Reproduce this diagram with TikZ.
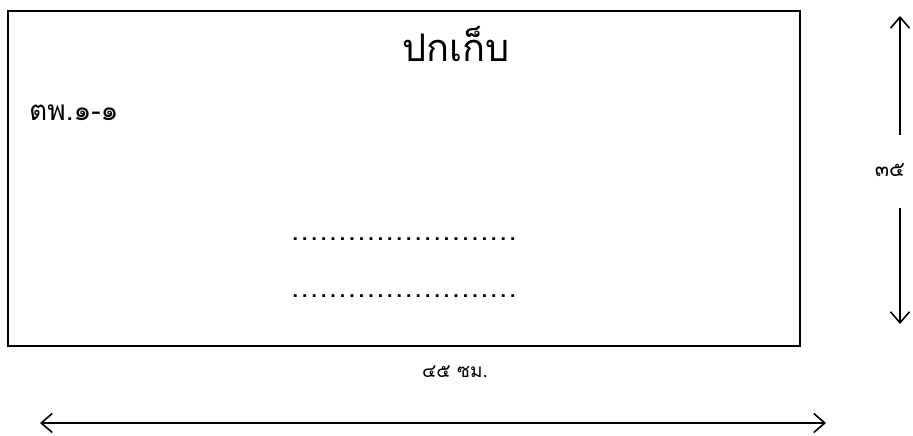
\documentclass[tikz,border=0pt]{standalone}
\usepackage{fontspec}
\newfontfamily\thaifont[Script=Thai]{Loma}
\usetikzlibrary{arrows.meta}
\newcommand\onedot{\makebox[9.45pt]{.}}
\newcommand\fourdots{\onedot\onedot\onedot\onedot}
\newcommand\dotrow{\fourdots\fourdots\fourdots\fourdots\fourdots\fourdots}
\begin{document}
\begin{tikzpicture}[x=1pt,y=-1pt,
  frame/.style={draw,line width=1.6pt},
  dim/.style={line width=1.6pt,-{Straight Barb[length=11pt,width=19pt,line width=1.6pt]}},
  lbl/.style={inner sep=0pt,font=\thaifont\fontsize{28}{32}\selectfont},
  small/.style={inner sep=0pt,font=\thaifont\fontsize{21}{24}\selectfont}]
\useasboundingbox (0,0) rectangle (913,436);
\draw[frame] (8,11) rectangle (800,346);
\node[lbl,font=\thaifont\fontsize{38}{42}\selectfont,anchor=base] (title) at (456,62) {ปกเก็บ};
\node[lbl,anchor=base west] (code) at (29,121) {ตพ.๑-๑};
\node[lbl,font=\thaifont\fontsize{28}{32}\selectfont,anchor=base] (dots1) at (404,240) {\dotrow};
\node[lbl,font=\thaifont\fontsize{28}{32}\selectfont,anchor=base] (dots2) at (404,297) {\dotrow};
\node[small] (h) at (890,170) {๓๕};
\coordinate (htop) at (900,16);
\coordinate (hbot) at (900,324);
\coordinate (hup) at (900,135);
\coordinate (hdn) at (900,208);
\draw[dim] (hup) -- (htop);
\draw[dim] (hdn) -- (hbot);
\node[small,font=\thaifont\fontsize{19}{22}\selectfont] (w) at (455,372) {๔๕ ซม.};
\coordinate (wl) at (40,423);
\coordinate (wr) at (826,423);
\draw[dim,{Straight Barb[length=11pt,width=19pt,line width=1.6pt]}-{Straight Barb[length=11pt,width=19pt,line width=1.6pt]}] (wl) -- (wr);
\end{tikzpicture}
\end{document}
